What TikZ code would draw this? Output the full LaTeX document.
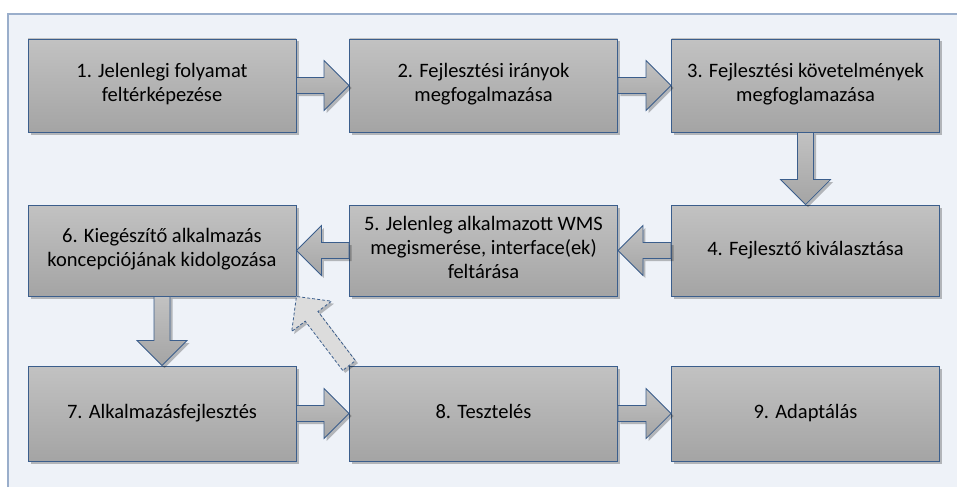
\documentclass[tikz,border=0pt]{standalone}
\usepackage{fontspec}
\setmainfont{Carlito}
\usetikzlibrary{calc,shadows}

\definecolor{framebg}{HTML}{EEF2F8}
\definecolor{frameline}{HTML}{9AAECB}
\definecolor{boxline}{HTML}{3B5E8C}
\definecolor{boxtop}{HTML}{C2C2C2}
\definecolor{boxbot}{HTML}{A4A4A4}
\definecolor{ghostfill}{HTML}{DCDCDC}

\tikzset{
  softshadow/.style={drop shadow={shadow xshift=2.5pt, shadow yshift=-2.5pt, fill=black, opacity=0.25}},
  stepbox/.style={draw=boxline, line width=0.9pt, top color=boxtop, bottom color=boxbot,
    minimum width=268pt, minimum height=93pt, inner sep=2pt, align=center,
    font=\fontsize{20.5}{24}\selectfont, text=black, softshadow,
    execute at begin node=\strut, execute at end node=\strut},
  flow/.style={draw=boxline, line width=0.8pt, line join=miter, top color=boxtop, bottom color=boxbot, softshadow},
  ghostflow/.style={draw=boxline, dashed, dash pattern=on 3pt off 2pt, line width=0.8pt, fill=ghostfill, softshadow}
}

% block arrow from #2 (tail) to #3 (tip): shaft half-width 8pt, head 25pt long and 25pt half-wide
\newcommand{\flowarrow}[3][flow]{%
  \coordinate (fa-h) at ($(#3)!25pt!(#2)$);
  \path[#1] ($(#2)!8pt!90:(#3)$) -- ($(fa-h)!8pt!-90:(#2)$) -- ($(fa-h)!25pt!-90:(#2)$)
    -- (#3) -- ($(fa-h)!25pt!90:(#2)$) -- ($(fa-h)!8pt!90:(#2)$) -- ($(#2)!8pt!-90:(#3)$) -- cycle;
}

\begin{document}
\begin{tikzpicture}[x=1pt, y=-1pt]
  % canvas and frame
  \fill[white] (0,0) rectangle (957,487);
  \useasboundingbox (0,0) rectangle (957,487);
  \fill[framebg] (8,14) rectangle (957,487);
  \draw[frameline, line width=1.4pt] (8,487) -- (8,14) -- (957,14);

  % process steps
  \node[stepbox] (b1) at (162,85.5)   {1. Jelenlegi folyamat\\feltérképezése};
  \node[stepbox] (b2) at (483.5,85.5) {2. Fejlesztési irányok\\megfogalmazása};
  \node[stepbox] (b3) at (805.5,85.5) {3. Fejlesztési követelmények\\megfoglamazása};
  \node[stepbox, minimum height=91pt] (b4) at (805.5,250.5) {4. Fejlesztő kiválasztása};
  \node[stepbox, minimum height=91pt] (b5) at (483.5,250.5) {5. Jelenleg alkalmazott WMS\\megismerése, interface(ek)\\feltárása};
  \node[stepbox, minimum height=91pt] (b6) at (162,250.5)   {6. Kiegészítő alkalmazás\\koncepciójának kidolgozása};
  \node[stepbox, minimum height=95pt] (b7) at (162,413.5)   {7. Alkalmazásfejlesztés};
  \node[stepbox, minimum height=95pt] (b8) at (483.5,413.5) {8. Tesztelés};
  \node[stepbox, minimum height=95pt] (b9) at (805.5,413.5) {9. Adaptálás};

  % connectors
  \flowarrow{b1.east}{b2.west}
  \flowarrow{b2.east}{b3.west}
  \flowarrow{b3.south}{b4.north}
  \flowarrow{b4.west}{b5.east}
  \flowarrow{b5.west}{b6.east}
  \flowarrow{b6.south}{b7.north}
  \flowarrow{b7.east}{b8.west}
  \flowarrow{b8.east}{b9.west}
  \flowarrow[ghostflow]{b8.north west}{b6.south east}
\end{tikzpicture}
\end{document}
